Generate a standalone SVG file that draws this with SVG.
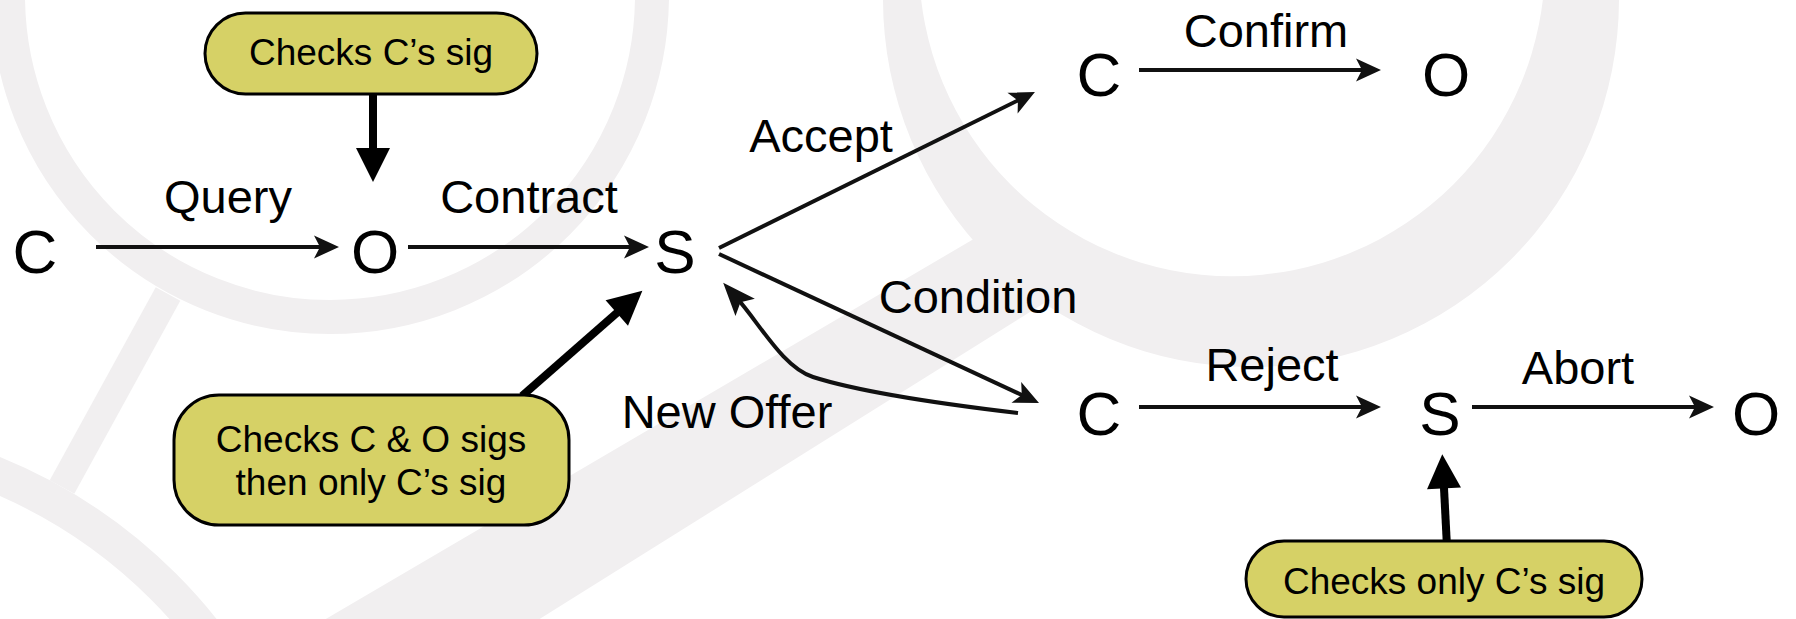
<svg xmlns="http://www.w3.org/2000/svg" width="1796" height="619" viewBox="0 0 1796 619">
<style>
.bg{fill:none;stroke:#f1eff0}
.lbl{font-family:"Liberation Sans",Arial,sans-serif;font-size:47px;fill:#000;text-anchor:middle}
.nd{font-family:"Liberation Sans",Arial,sans-serif;font-size:62px;fill:#000;text-anchor:middle}
.bx{fill:#d6d166;stroke:#000;stroke-width:3}
.bt{font-family:"Liberation Sans",Arial,sans-serif;font-size:37px;fill:#000;text-anchor:middle}
.thin{fill:none;stroke:#111;stroke-width:4;marker-end:url(#ah)}
.thick{fill:none;stroke:#000;stroke-width:8;marker-end:url(#ahb)}
</style>
<defs>
<marker id="ah" viewBox="-27 -13 28 26" refX="-16" refY="0" markerWidth="28" markerHeight="26" orient="auto" markerUnits="userSpaceOnUse"><path d="M0,0 L-25,-11.5 L-19,0 L-25,11.5 Z" fill="#111"/></marker>
<marker id="ahl" viewBox="-35 -15 36 30" refX="-20" refY="0" markerWidth="36" markerHeight="30" orient="auto" markerUnits="userSpaceOnUse"><path d="M0,0 L-33,-13 L-26,0 L-33,13 Z" fill="#111"/></marker>
<marker id="ahb" viewBox="-35 -18 36 36" refX="-28" refY="0" markerWidth="36" markerHeight="36" orient="auto" markerUnits="userSpaceOnUse"><path d="M0,0 L-34,-17 L-34,17 Z" fill="#000"/></marker>
</defs>
<rect width="1796" height="619" fill="#fff"/>
<g id="background">
<circle class="bg" cx="330" cy="-5" r="322" stroke-width="34"/>
<line class="bg" x1="168" y1="294" x2="62" y2="487" stroke-width="28"/>
<circle class="bg" cx="-200" cy="950" r="514" stroke-width="36"/>
<path fill="#f1eff0" fill-rule="evenodd" d="M1619,-1 A368,368 0 1 1 883,-1 A368,368 0 1 1 1619,-1 Z M1545,-37 A313,313 0 1 0 919,-37 A313,313 0 1 0 1545,-37 Z"/>
<polygon fill="#f1eff0" points="290,640 1030,206 1110,262 506,640"/>
</g>
<g id="connectors">
<line class="thin" x1="96" y1="247" x2="323" y2="247"/>
<line class="thin" x1="408" y1="247" x2="633" y2="247"/>
<line class="thin" x1="719" y1="248" x2="1020.6" y2="99.1"/>
<line class="thin" x1="719" y1="254" x2="1024.5" y2="396.2"/>
<path fill="none" stroke="#111" stroke-width="4" marker-end="url(#ahl)" d="M1018,413 C950,405 860,392 813,377 C783,367.5 760,324 736.5,297.7"/>
<line class="thin" x1="1139" y1="70" x2="1365" y2="70"/>
<line class="thin" x1="1139" y1="407" x2="1365" y2="407"/>
<line class="thin" x1="1472" y1="407" x2="1698" y2="407"/>
<line class="thick" x1="373" y1="94" x2="373" y2="154"/>
<line class="thick" x1="522" y1="396" x2="621.3" y2="309.1"/>
<line class="thick" x1="1446.7" y1="541" x2="1443.7" y2="482.3"/>
</g>
<g id="edge-labels">
<text class="lbl" x="228" y="213">Query</text>
<text class="lbl" x="529" y="213">Contract</text>
<text class="lbl" x="821" y="152">Accept</text>
<text class="lbl" x="978" y="313">Condition</text>
<text class="lbl" x="727" y="428">New Offer</text>
<text class="lbl" x="1266" y="47">Confirm</text>
<text class="lbl" x="1272" y="381">Reject</text>
<text class="lbl" x="1578" y="384">Abort</text>
</g>
<g id="node-C1"><text class="nd" x="35" y="273">C</text></g>
<g id="node-O1"><text class="nd" x="375" y="273">O</text></g>
<g id="node-S1"><text class="nd" x="675" y="273">S</text></g>
<g id="node-C2"><text class="nd" x="1099" y="96">C</text></g>
<g id="node-O2"><text class="nd" x="1446" y="96">O</text></g>
<g id="node-C3"><text class="nd" x="1099" y="435">C</text></g>
<g id="node-S3"><text class="nd" x="1440" y="435">S</text></g>
<g id="node-O3"><text class="nd" x="1756" y="435">O</text></g>
<g id="note-top"><rect class="bx" x="205" y="13" width="332" height="81" rx="40.5"/><text class="bt" x="371" y="65">Checks C’s sig</text></g>
<g id="note-left"><rect class="bx" x="174" y="395" width="395" height="130" rx="45"/><text class="bt" x="371" y="452">Checks C &amp; O sigs</text><text class="bt" x="371" y="495">then only C’s sig</text></g>
<g id="note-right"><rect class="bx" x="1246" y="541" width="396" height="76" rx="38"/><text class="bt" x="1444" y="594">Checks only C’s sig</text></g>
</svg>
